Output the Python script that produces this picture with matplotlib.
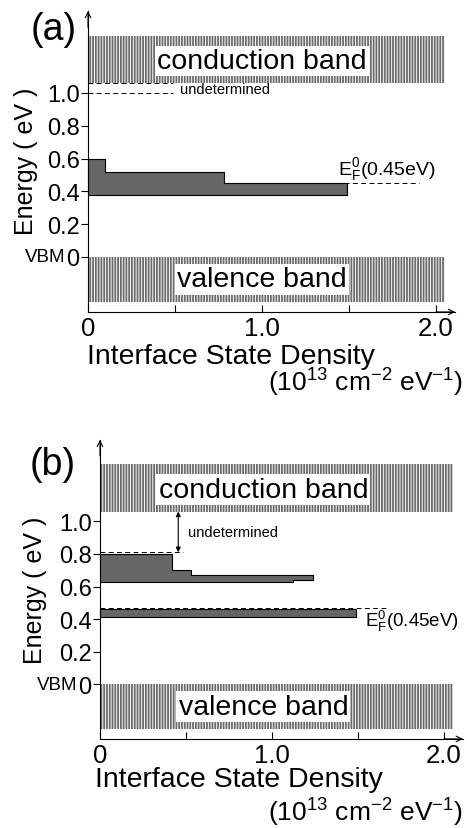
import numpy as np
import matplotlib
matplotlib.use("Agg")
import matplotlib.pyplot as plt

plt.rcParams['font.family'] = ['Liberation Sans', 'DejaVu Sans']
plt.rcParams['mathtext.fontset'] = 'custom'
plt.rcParams['mathtext.rm'] = 'Liberation Sans'
plt.rcParams['mathtext.it'] = 'Liberation Sans'
plt.rcParams['hatch.linewidth'] = 1.3

# energy (eV) edges of each density step and the density (1e13 cm-2 eV-1) inside it
energy_a = [0.38, 0.45, 0.52, 0.60]
density_a = [1.49, 0.78, 0.10]
ef_a = 0.45
undet_a = [1.00, 1.06]

energy_b_upper = [0.625, 0.64, 0.67, 0.70, 0.80]
density_b_upper = [1.12, 1.24, 0.53, 0.42]
energy_b_lower = [0.415, 0.465]
density_b_lower = [1.49]
ef_b = 0.468
undet_b = [0.81, 1.06]

cb_edges = [1.06, 1.35]
vb_edges = [-0.275, 0.0]
band_width = 2.05
yticks = [0, 0.2, 0.4, 0.6, 0.8, 1.0]
ytick_labels = ['0', '0.2', '0.4', '0.6', '0.8', '1.0']
xticks = [0, 0.5, 1.0, 1.5, 2.0]
xtick_labels = ['0', '', '1.0', '', '2.0']

W, H = 467, 829
XLIM = (-0.1, 2.12)
YLIM = (-0.4, 1.56)
X_AXIS_Y = -0.335

fig = plt.figure(figsize=(W / 100, H / 100), dpi=100)


def make_axes(x0, y0, sx, sy):
    # x0, y0: pixel position of the origin, sx, sy: pixels per unit
    left = x0 + XLIM[0] * sx
    right = x0 + XLIM[1] * sx
    bottom = y0 - YLIM[0] * sy
    top = y0 - YLIM[1] * sy
    ax = fig.add_axes([left / W, 1 - bottom / H, (right - left) / W, (bottom - top) / H])
    ax.set_xlim(*XLIM)
    ax.set_ylim(*YLIM)
    ax.patch.set_alpha(0)
    return ax


def draw_frame(ax):
    for s in ['top', 'right']:
        ax.spines[s].set_visible(False)
    ax.spines['left'].set_position(('data', 0))
    ax.spines['left'].set_bounds(X_AXIS_Y, 1.5)
    ax.spines['bottom'].set_position(('data', X_AXIS_Y))
    ax.spines['bottom'].set_bounds(0, 2.11)
    for s in ['left', 'bottom']:
        ax.spines[s].set_linewidth(0.8)
    ax.set_yticks(yticks)
    ax.set_yticklabels(ytick_labels, fontsize=17)
    ax.set_xticks(xticks)
    ax.set_xticklabels(xtick_labels, fontsize=18.5)
    ax.tick_params(axis='y', direction='out', length=5, width=0.8, pad=1)
    ax.tick_params(axis='x', direction='in', length=5, width=0.8, pad=3)
    ax.annotate('', xy=(0, 1.5), xytext=(0, 1.4),
                arrowprops=dict(arrowstyle='->', lw=0.8, shrinkA=0, shrinkB=0))
    ax.annotate('', xy=(2.11, X_AXIS_Y), xytext=(2.0, X_AXIS_Y),
                arrowprops=dict(arrowstyle='->', lw=0.8, shrinkA=0, shrinkB=0))
    ax.text(-0.13, 0, 'VBM', fontsize=13.5, ha='right', va='center')


def draw_bands(ax, xc):
    ax.fill_between([0, band_width], cb_edges[0], cb_edges[1], facecolor='white',
                    edgecolor='#6a6a6a', hatch='||||||', linewidth=0, zorder=1)
    ax.fill_between([0, band_width], vb_edges[0], vb_edges[1], facecolor='white',
                    edgecolor='#6a6a6a', hatch='||||||', linewidth=0, zorder=1)
    box = dict(boxstyle='square,pad=0.08', facecolor='white', edgecolor='none')
    ax.text(xc, 1.195, 'conduction band', fontsize=20.5, ha='center', va='center', bbox=box, zorder=3)
    ax.text(xc, -0.137, 'valence band', fontsize=20.5, ha='center', va='center', bbox=box, zorder=3)


def draw_dos(ax, energy, density):
    x = list(density) + [density[-1]]
    ax.fill_betweenx(energy, 0, x, step='post', facecolor='#666666',
                     edgecolor='black', linewidth=0.8, zorder=4)


# ---- (a) ----
ax1 = make_axes(88, 258, 174, 164)
draw_frame(ax1)
draw_bands(ax1, 1.0)
ax1.hlines(undet_a, 0, 0.49, colors='black', linestyles=(0, (5, 3.5)), linewidth=0.7, zorder=3)
ax1.text(0.53, 1.024, 'undetermined', fontsize=10.5, ha='left', va='center')
ax1.hlines(ef_a, 0, 1.9, colors='black', linestyles=(0, (5, 3.5)), linewidth=0.7, zorder=3)
draw_dos(ax1, energy_a, density_a)
ax1.text(2.0, ef_a + 0.005, r'$\mathregular{E_F^0}$(0.45eV)', fontsize=14, ha='right', va='bottom')

# ---- (b) ----
ax2 = make_axes(100, 685.3, 172, 163)
draw_frame(ax2)
draw_bands(ax2, 0.95)
ax2.hlines(undet_b[0], 0, 0.48, colors='black', linestyles=(0, (5, 3.5)), linewidth=0.7, zorder=3)
ax2.annotate('', xy=(0.455, undet_b[1]), xytext=(0.455, undet_b[0]),
             arrowprops=dict(arrowstyle='<|-|>', lw=0.8, mutation_scale=7,
                             shrinkA=0, shrinkB=0, color='black'))
ax2.text(0.51, 0.935, 'undetermined', fontsize=10.5, ha='left', va='center')
ax2.hlines(ef_b, 0, 1.67, colors='black', linestyles=(0, (5, 3.5)), linewidth=0.7, zorder=5)
draw_dos(ax2, energy_b_upper, density_b_upper)
draw_dos(ax2, energy_b_lower, density_b_lower)
ax2.text(1.54, 0.39, r'$\mathregular{E_F^0}$(0.45eV)', fontsize=13.5, ha='left', va='center')

# panel letters and axis titles
def ftext(px, py, s, **kw):
    fig.text(px / W, 1 - py / H, s, **kw)

ftext(54, 30, '(a)', fontsize=27, ha='center', va='center')
ftext(53, 465, '(b)', fontsize=27, ha='center', va='center')
ftext(26, 161, 'Energy ( eV )', fontsize=18, rotation=90, ha='center', va='center')
ftext(35, 590, 'Energy ( eV )', fontsize=18, rotation=90, ha='center', va='center')
unit = r'$\mathregular{(10^{13}\ cm^{-2}\ eV^{-1})}$'
ftext(231, 357, 'Interface State Density', fontsize=20.5, ha='center', va='center')
ftext(463, 383, unit, fontsize=19, ha='right', va='center')
ftext(239, 780, 'Interface State Density', fontsize=20.5, ha='center', va='center')
ftext(463, 813, unit, fontsize=19, ha='right', va='center')

fig.savefig('out.png', dpi=100)
